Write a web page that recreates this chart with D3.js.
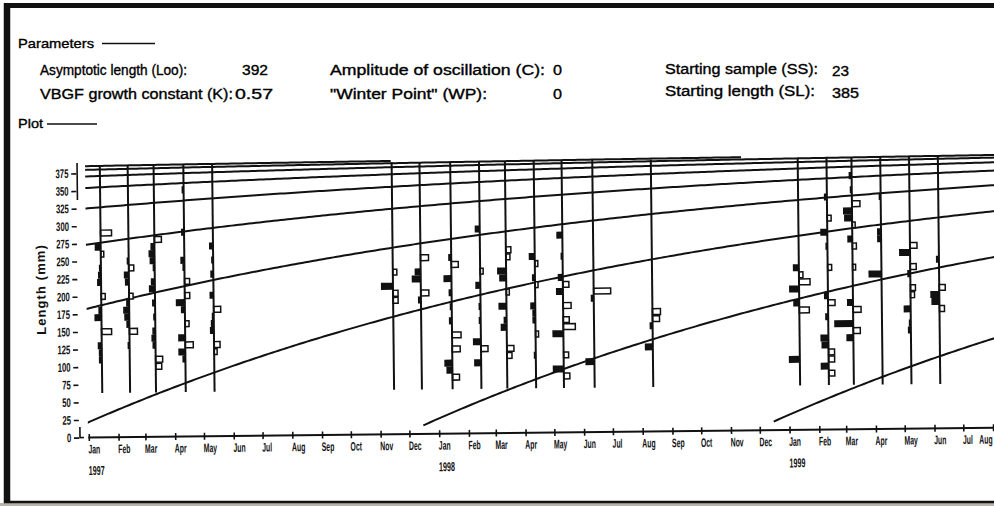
<!DOCTYPE html>
<html>
<head>
<meta charset="utf-8">
<script src="https://cdn.jsdelivr.net/npm/d3@7"></script>
<style>
  body { margin: 0; background: #fff; }
  svg { display: block; font-family: "Liberation Sans", Arial, sans-serif; }
</style>
</head>
<body>
<svg id="chart" width="994" height="506"></svg>
<script>
// growth parameters printed on the chart
const Loo = 392, K = 0.57, C = 0, WP = 0, SS = 23, SL = 385

const months = ["Jan","Feb","Mar","Apr","May","Jun","Jul","Aug","Sep","Oct","Nov","Dec"]
const years = ["1997","1998","1999"]
const lengthTicks = [0,25,50,75,100,125,150,175,200,225,250,275,300,325,350,375]

// birth dates of the cohorts whose growth curves are drawn
const cohortBirths = ["1989-11-25","1990-11-25","1991-11-25","1992-11-25","1993-11-25",
                      "1994-11-25","1995-11-25","1996-11-25","1997-11-25","1998-11-25"]
const curveAges = [0.055, 7.97]     // first and last age drawn (years)
const sampleSpan = [63, 386]        // length range covered by every sample (mm)
const classWidth = 10

const sampleDates = ["1997-01-15","1997-02-13","1997-03-12","1997-04-12","1997-05-12",
                     "1997-11-15","1997-12-14","1998-01-15","1998-02-14","1998-03-13",
                     "1998-04-12","1998-05-11","1998-06-12","1998-08-12",
                     "1999-01-12","1999-02-11","1999-03-09","1999-04-08","1999-05-08","1999-06-07"]

// restructured frequencies: [class mid length, score] (black < 0 < white)
const sampleScores = [
  [[290,0.55],[270,-0.3],[260,0.15],[240,-0.1],[230,-0.15],[220,-0.2],[200,0.2],[180,-0.15],[170,-0.35],[150,0.5],[130,-0.2],[120,-0.15],[110,-0.15]],
  [[250,-0.1],[240,0.25],[230,-0.25],[220,-0.2],[200,0.2],[190,-0.15],[180,-0.3],[170,-0.25],[160,-0.15],[150,0.4],[130,-0.1]],
  [[280,0.35],[270,-0.2],[260,-0.3],[250,-0.25],[240,-0.1],[220,-0.2],[210,-0.3],[190,-0.15],[170,-0.1],[150,-0.15],[140,-0.2],[130,-0.15],[110,0.35],[100,0.3]],
  [[350,-0.1],[290,-0.15],[250,-0.2],[240,-0.1],[220,0.25],[200,0.25],[190,-0.45],[180,-0.2],[160,0.2],[140,-0.35],[130,0.4],[120,-0.35],[110,-0.15]],
  [[270,-0.2],[250,-0.1],[230,-0.15],[200,-0.2],[180,0.35],[170,-0.1],[160,-0.15],[150,-0.2],[130,0.3],[120,0.15]],
  [[230,0.2],[210,-0.6],[200,0.25],[190,0.25]],
  [[250,0.4],[230,-0.3],[220,-0.45],[200,0.4],[190,-0.15]],
  [[250,-0.15],[240,0.35],[220,-0.4],[200,-0.15],[180,-0.1],[160,-0.15],[140,0.45],[120,0.4],[100,-0.4],[90,-0.3],[80,0.35]],
  [[290,-0.25],[230,0.15],[210,-0.25],[180,-0.1],[160,-0.1],[130,-0.4],[120,0.35],[100,-0.35]],
  [[260,0.25],[250,0.2],[230,-0.45],[220,-0.35],[200,0.15],[180,-0.4],[160,-0.15],[150,-0.3],[120,0.35],[110,0.25]],
  [[250,-0.3],[240,0.15],[220,-0.15],[210,0.15],[180,-0.25],[170,-0.15],[160,-0.15],[140,0.15],[110,-0.1]],
  [[280,-0.3],[250,-0.1],[220,-0.25],[210,0.3],[200,-0.35],[180,0.4],[160,0.3],[150,0.6],[140,-0.55],[110,0.25],[90,-0.55],[80,0.3]],
  [[200,0.85],[190,-0.15],[100,-0.45]],
  [[170,0.4],[160,0.35],[150,-0.15],[120,-0.4]],
  [[230,-0.3],[220,0.2],[210,0.55],[200,-0.5],[180,-0.3],[170,0.5],[100,-0.55]],
  [[330,-0.15],[300,0.2],[280,-0.35],[260,-0.1],[230,0.2],[190,-0.2],[180,0.35],[160,-0.15],[130,-0.4],[120,-0.35],[110,0.3],[100,0.3],[90,-0.4],[80,0.3]],
  [[360,-0.15],[340,-0.1],[320,0.4],[310,-0.45],[300,-0.4],[290,0.15],[270,-0.25],[260,0.2],[230,0.15],[180,-0.3],[170,0.4],[150,-0.95],[140,0.35],[130,-0.35]],
  [[330,-0.1],[280,-0.2],[270,-0.2],[220,-0.65]],
  [[260,0.35],[250,-0.55],[230,0.3],[220,-0.15],[200,0.25],[190,0.2],[170,-0.35],[150,-0.1],[140,-0.15]],
  [[240,-0.15],[200,0.3],[190,-0.45],[180,-0.4],[170,0.25]]
]

const svg = d3.select("#chart")
const ink = "#111"
const YEAR = 365.25 * 864e5

// frame
svg.append("rect").attr("x", 0).attr("y", 503).attr("width", 994).attr("height", 3).attr("fill", "#b9b2a8")
svg.append("line").attr("x1", 7).attr("x2", 994).attr("y1", 5.5).attr("y2", 5.5).attr("stroke", ink).attr("stroke-width", 5)
svg.append("line").attr("x1", 7).attr("x2", 7).attr("y1", 3).attr("y2", 503).attr("stroke", ink).attr("stroke-width", 6.5)
svg.append("line").attr("x1", 4).attr("x2", 994).attr("y1", 502).attr("y2", 502).attr("stroke", ink).attr("stroke-width", 2.5)

// header text
const txt = (x, y, s, len, size) =>
  svg.append("text").attr("x", x).attr("y", y).attr("font-size", size || 14)
    .attr("fill", "#000").attr("stroke", "#000").attr("stroke-width", 0.35)
    .attr("textLength", len).attr("lengthAdjust", "spacingAndGlyphs").text(s)

txt(18, 48, "Parameters", 76, 13)
svg.append("line").attr("x1", 102).attr("x2", 155).attr("y1", 43.5).attr("y2", 43.5).attr("stroke", ink).attr("stroke-width", 1.6)
txt(40, 75, "Asymptotic length (Loo):", 147)
txt(242, 75, String(Loo), 26)
txt(40, 99, "VBGF growth constant (K):", 193)
txt(235, 99, String(K), 38)
txt(330, 75, "Amplitude of oscillation (C):", 215)
txt(553, 75, String(C), 9)
txt(330, 99, "\"Winter Point\" (WP):", 157)
txt(553, 99, String(WP), 9)
txt(665, 74, "Starting sample (SS):", 153)
txt(832, 76, String(SS), 17)
txt(665, 96, "Starting length (SL):", 150)
txt(832, 98, String(SL), 27)
txt(18, 128, "Plot", 25, 13)
svg.append("line").attr("x1", 47).attr("x2", 97).attr("y1", 124).attr("y2", 124).attr("stroke", ink).attr("stroke-width", 1.6)

// plot area (the scanned plot is slightly tilted)
const g = svg.append("g").attr("transform", "rotate(-0.62, 89, 437)")

const x = d3.scaleTime()
  .domain([new Date(1997, 0, 1), new Date(1999, 7, 1)])
  .range([89.3, 993.6])
const y = d3.scaleLinear().domain([0, 375]).range([437.5, 173.3])
const w = d3.scaleLinear().domain([0, 1]).range([0, 20])

g.append("clipPath").attr("id", "plotclip")
  .append("rect").attr("x", 88).attr("y", 140).attr("width", 920).attr("height", 300)

// VBGF with seasonal term (Somers)
const ts = WP - 0.5
const season = t => (C * K / (2 * Math.PI)) * Math.sin(2 * Math.PI * (t - ts))
const yearsOf = d => d.getFullYear() + (d - new Date(d.getFullYear(), 0, 1)) / YEAR
const vbgf = (t, t0) => Loo * (1 - Math.exp(-K * (t - t0) - season(t) + season(t0)))

const line = d3.line().x(d => x(d[0])).y(d => y(d[1]))
const curves = g.append("g").attr("clip-path", "url(#plotclip)")
cohortBirths.forEach(b => {
  const birth = new Date(b)
  const t0 = yearsOf(birth)
  const ages = d3.range(curveAges[0], curveAges[1], 0.01).concat([curveAges[1]])
  const pts = ages
    .map(a => [new Date(+birth + a * YEAR), vbgf(t0 + a, t0)])
    .filter(p => p[0] >= new Date(1996, 11, 20) && p[0] <= new Date(1999, 8, 1))
  if (pts.length < 2) return
  curves.append("path").attr("d", line(pts))
    .attr("fill", "none").attr("stroke", ink).attr("stroke-width", 2)
})

// samples
sampleDates.forEach((s, i) => {
  const cx = x(new Date(s + "T00:00:00"))
  const sg = g.append("g")
  sampleScores[i].forEach(([len, sc]) => {
    const top = y(len + classWidth / 2), h = y(len - classWidth / 2) - top
    if (sc < 0) {
      sg.append("rect").attr("x", cx - w(-sc)).attr("y", top)
        .attr("width", w(-sc)).attr("height", h).attr("fill", ink)
    } else {
      sg.append("rect").attr("x", cx).attr("y", top + 0.6)
        .attr("width", w(sc)).attr("height", h - 1.2)
        .attr("fill", "#fff").attr("stroke", ink).attr("stroke-width", 1.5)
    }
  })
  sg.append("line").attr("x1", cx).attr("x2", cx)
    .attr("y1", y(sampleSpan[0])).attr("y2", y(sampleSpan[1]))
    .attr("stroke", ink).attr("stroke-width", 2)
})

// y axis
const yAxis = g.append("g").attr("transform", "translate(79,0)")
  .call(d3.axisLeft(y).tickValues(lengthTicks).tickSize(5).tickPadding(3))
yAxis.select(".domain").remove()
yAxis.selectAll(".tick line").attr("stroke", ink).attr("stroke-width", 1.6)
yAxis.selectAll(".tick text")
  .attr("font-family", "'Liberation Sans', Arial, sans-serif")
  .attr("font-size", 12.5).attr("font-weight", "bold").attr("fill", ink)
  .attr("transform", "translate(-2.8,0) scale(0.62,1)")
  .attr("x", -8)
g.append("path").attr("d", "M80,427 V437.5 H84 M80,163 V200")
  .attr("fill", "none").attr("stroke", ink).attr("stroke-width", 1.6)

g.append("text")
  .attr("transform", "translate(47,289) rotate(-90)")
  .attr("text-anchor", "middle").attr("font-size", 13).attr("font-weight", "bold")
  .attr("letter-spacing", 1.1).attr("fill", ink).text("Length (mm)")

// x axis
const monthTicks = d3.timeMonth.range(new Date(1997, 0, 1), new Date(1999, 7, 2))
const xAxis = g.append("g").attr("transform", "translate(0," + y(0) + ")")
xAxis.append("line").attr("x1", x(monthTicks[0]) - 1).attr("x2", 1000)
  .attr("stroke", ink).attr("stroke-width", 2)
const tk = xAxis.selectAll(".mt").data(monthTicks).join("g")
  .attr("class", "mt").attr("transform", d => "translate(" + x(d) + ",0)")
tk.append("line").attr("y1", -3.5).attr("y2", 3.5).attr("stroke", ink).attr("stroke-width", 1.6)
tk.append("text")
  .attr("transform", (d, i) => i === monthTicks.length - 1
    ? "translate(-1,16) scale(0.55,1)" : "translate(-1,16) scale(0.55,1)")
  .attr("text-anchor", (d, i) => i === monthTicks.length - 1 ? "end" : "start")
  .attr("x", (d, i) => i === monthTicks.length - 1 ? 0 : 0)
  .attr("font-size", 12.5).attr("font-weight", "bold").attr("fill", ink)
  .text(d => months[d.getMonth()])

g.selectAll(".yr").data(years).join("text").attr("class", "yr")
  .attr("transform", d => "translate(" + (x(new Date(+d, 0, 1)) - 1) + ",475) scale(0.55,1)")
  .attr("font-size", 13).attr("font-weight", "bold").attr("fill", ink)
  .text(d => d)
</script>
</body>
</html>
